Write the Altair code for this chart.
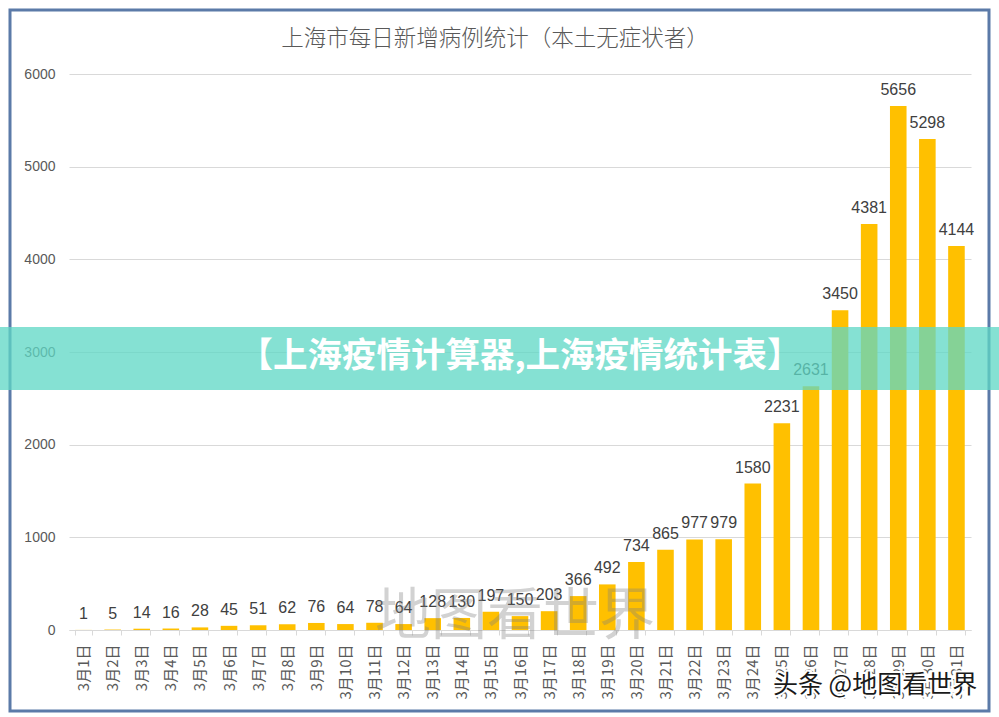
import altair as alt
import pandas as pd

# Daily new local asymptomatic cases in Shanghai, March 1-31
days = [f"3月{d}日" for d in range(1, 32)]
cases = [1, 5, 14, 16, 28, 45, 51, 62, 76, 64, 78, 64, 128, 130, 197, 150,
         203, 366, 492, 734, 865, 977, 979, 1580, 2231, 2631, 3450, 4381,
         5656, 5298, 4144]

title_text = "上海市每日新增病例统计（本土无症状者）"
banner_text = "【上海疫情计算器,上海疫情统计表】"
mark_text = "地图看世界"
credit_text = "头条 @地图看世界"

W, H = 902, 556
PAD = {"left": 69, "top": 74, "right": 28, "bottom": 87}

df = pd.DataFrame({"day": days, "cases": cases})

x_enc = alt.X(
    "day:N", sort=None, title=None,
    scale=alt.Scale(paddingInner=0.43, paddingOuter=0.215),
    axis=alt.Axis(labelAngle=-90, labelFontSize=15, labelColor="#595959",
                  labelFont="Noto Sans CJK SC", domainColor="#d9d9d9",
                  tickColor="#d9d9d9", tickSize=5, tickBand="extent",
                  labelPadding=9, grid=False),
)
y_enc = alt.Y(
    "cases:Q", title=None,
    scale=alt.Scale(domain=[0, 6000], nice=False),
    axis=alt.Axis(values=list(range(0, 6001, 1000)), format="d",
                  labelFontSize=14, labelColor="#595959",
                  labelFont="Liberation Sans", labelPadding=14,
                  domain=False, ticks=False, gridColor="#d9d9d9"),
)

base = alt.Chart(df)

bars = base.mark_bar(color="#FFC000").encode(x=x_enc, y=y_enc)

values = base.mark_text(
    baseline="alphabetic", dy=-11, fontSize=16, color="#404040",
    font="Liberation Sans",
).encode(x=alt.X("day:N", sort=None), y="cases:Q", text="cases:Q")

one = pd.DataFrame({"k": [0]})

frame = alt.Chart(one).mark_rect(
    fillOpacity=0, stroke="#5b7aa8", strokeWidth=3
).encode(x=alt.value(-59), x2=alt.value(920), y=alt.value(-64), y2=alt.value(637))

title = alt.Chart(one).mark_text(
    text=title_text, fontSize=22.5, color="#595959", font="Noto Sans CJK SC",
    fontWeight=300, align="center", baseline="middle",
).encode(x=alt.value(426), y=alt.value(-35))

watermark = alt.Chart(one).mark_text(
    text=mark_text, fontSize=56, color="#7f7f7f", opacity=0.35,
    font="Noto Sans CJK SC", align="center", baseline="middle",
).encode(x=alt.value(446), y=alt.value(543))

banner = alt.Chart(one).mark_rect(color="#5fd8c5", opacity=0.76).encode(
    x=alt.value(-69), x2=alt.value(930), y=alt.value(253), y2=alt.value(316)
)

banner_label = alt.Chart(one).mark_text(
    text=banner_text, fontSize=34.5, fontWeight="bold", color="#ffffff",
    font="Noto Sans CJK SC", align="center", baseline="middle",
).encode(x=alt.value(451), y=alt.value(283))

credit_halo = alt.Chart(one).mark_text(
    text=credit_text, fontSize=25, color="#ffffff", stroke="#ffffff",
    strokeWidth=4, font="Noto Sans CJK SC", align="center", baseline="middle",
).encode(x=alt.value(806), y=alt.value(611))

credit = alt.Chart(one).mark_text(
    text=credit_text, fontSize=25, color="#1a1a1a",
    font="Noto Sans CJK SC", align="center", baseline="middle",
).encode(x=alt.value(806), y=alt.value(611))

chart = alt.layer(
    frame, bars, values, title, watermark, banner, banner_label,
    credit_halo, credit,
).properties(
    width=W, height=H, padding=PAD,
    autosize=alt.AutoSizeParams(type="none"),
    background="#ffffff",
).configure_view(stroke=None)

chart.save("out.html", embed_options={"renderer": "svg", "actions": False})
